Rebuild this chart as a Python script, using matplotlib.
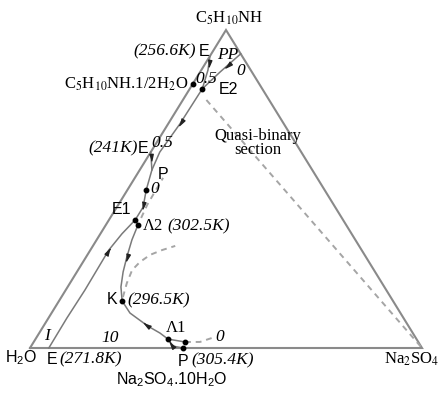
import numpy as np
import matplotlib.pyplot as plt

plt.rcParams['mathtext.fontset'] = 'custom'
plt.rcParams['mathtext.rm'] = 'Liberation Sans'
plt.rcParams['mathtext.it'] = 'Liberation Sans:italic'

SANS = 'Liberation Sans'
SERIF = 'Liberation Serif'

# height of the composition triangle relative to its base
H = 318 / 392

# compositions as (Na2SO4 fraction, C5H10NH fraction); water is the remainder
ice_salt = [0.048, 0.047, 0.049, 0.048, 0.047, 0.055, 0.067]
ice_amine = [0.000, 0.094, 0.182, 0.245, 0.308, 0.359, 0.403]

anhyd_salt = [0.075, 0.051, 0.032, 0.030, 0.023, 0.031, 0.048, 0.067, 0.067]
anhyd_amine = [0.925, 0.868, 0.815, 0.704, 0.616, 0.560, 0.497, 0.443, 0.403]

deca_salt = [0.067, 0.082, 0.090, 0.104, 0.118, 0.136, 0.161, 0.200, 0.266,
             0.308, 0.338, 0.362, 0.390]
deca_amine = [0.403, 0.387, 0.340, 0.286, 0.239, 0.192, 0.148, 0.110, 0.069,
              0.047, 0.028, 0.006, 0.000]

e256_salt = [0.000, 0.017, 0.032]
e256_amine = [0.918, 0.874, 0.815]

e241_salt = [0.000, 0.031]
e241_amine = [0.616, 0.560]

tie_salt = [0.338, 0.386]
tie_amine = [0.028, 0.019]

# liquid-liquid boundaries
bino1_salt = [0.386, 0.424, 0.455]
bino1_amine = [0.019, 0.019, 0.035]
bino2_salt = [0.157, 0.145, 0.138, 0.145, 0.160, 0.183, 0.210]
bino2_amine = [0.160, 0.204, 0.245, 0.270, 0.293, 0.308, 0.321]
bino3_salt = [0.079, 0.074, 0.073, 0.072]
bino3_amine = [0.409, 0.450, 0.487, 0.535]

# hemihydrate -> Na2SO4 section
quasi_salt = [0.06, 1.0]
quasi_amine = [0.78, 0.0]

# invariant points
pt = {
    'E256': (0.000, 0.918), 'hemi': (0.000, 0.830), 'E2': (0.032, 0.815),
    'E241': (0.000, 0.616), 'Ptop': (0.031, 0.560), 'zero': (0.048, 0.497),
    'E1': (0.067, 0.403), 'L2': (0.082, 0.387), 'K': (0.161, 0.148),
    'L1': (0.338, 0.028), 'L1b': (0.386, 0.019), 'Pbase': (0.390, 0.000),
    'E271': (0.048, 0.000), 'H2O': (0.0, 0.0), 'Na2SO4': (1.0, 0.0),
    'amine': (0.0, 1.0),
}
dots = ['hemi', 'E2', 'zero', 'E1', 'L2', 'K', 'L1', 'L1b', 'Pbase']


def tern(salt, amine):
    salt = np.asarray(salt, dtype=float)
    amine = np.asarray(amine, dtype=float)
    return salt + amine / 2, amine * H


fig = plt.figure(figsize=(4.39, 3.93), dpi=100)
ax = fig.add_axes([0, 0, 1, 1])
ax.set_xlim(-30 / 392, 409 / 392)
ax.set_ylim(-45 / 392, 348 / 392)
ax.axis('off')

# triangle
tx, ty = tern([0, 1, 0, 0], [0, 0, 1, 0])
ax.plot(tx, ty, color='#8a8a8a', lw=1.5, solid_joinstyle='miter')

line_kw = dict(color='#7a7a7a', lw=1.1)
curves = {}
for name, s, a in [('ice', ice_salt, ice_amine), ('anhyd', anhyd_salt, anhyd_amine),
                   ('deca', deca_salt, deca_amine), ('e256', e256_salt, e256_amine),
                   ('e241', e241_salt, e241_amine), ('tie', tie_salt, tie_amine)]:
    x, y = tern(s, a)
    curves[name] = (x, y)
    ax.plot(x, y, **line_kw)

dash_kw = dict(color='#a5a5a5', lw=1.4, dashes=(3, 2.5))
for s, a in [(bino1_salt, bino1_amine), (bino2_salt, bino2_amine),
             (bino3_salt, bino3_amine), (quasi_salt, quasi_amine)]:
    ax.plot(*tern(s, a), **dash_kw)

for k in dots:
    ax.plot(*tern(*pt[k]), 'o', color='black', ms=3.2)


def arrow(name, i, frac=0.5, reverse=False):
    x, y = curves[name]
    p0 = np.array([x[i], y[i]])
    p1 = np.array([x[i + 1], y[i + 1]])
    p = p0 + frac * (p1 - p0)
    d = p1 - p0
    if reverse:
        d = -d
    ang = np.arctan2(d[1], d[0])
    c, s = np.cos(ang), np.sin(ang)
    head = np.array([[1.0, 0.0], [-0.8, 0.5], [-0.8, -0.5]])
    rot = head @ np.array([[c, s], [-s, c]])
    ax.plot(p[0], p[1], marker=rot, ms=5.5, color='#222222', ls='none')


arrow('e256', 0, 0.5)
arrow('anhyd', 0, 0.6)
arrow('anhyd', 2, 0.95)
arrow('e241', 0, 0.3)
arrow('anhyd', 6, 0.9)
arrow('ice', 3, 0.9)
arrow('deca', 2, 1.0)
arrow('deca', 7, 0.95, reverse=True)
arrow('deca', 10, 0.8, reverse=True)


def label(text, key, dx, dy, family=SANS, style='normal', ha='center',
          va='center', math='custom', size=11.5, **kw):
    ax.annotate(text, xy=tern(*pt[key]), xytext=(dx, dy),
                textcoords='offset pixels', ha=ha, va=va, fontsize=size,
                family=family, style=style, math_fontfamily=math, **kw)


it = dict(family=SERIF, style='italic', math='stix', size=12.5)
rm = dict(family=SERIF, math='stix', size=12)

label(r'C$_5$H$_{10}$NH', 'amine', 3, 12, **rm)
label('E', 'E256', -1, 5, ha='right')
label('(256.6K)', 'E256', -14, 5, ha='right', **it)
label('PP', 'E256', 18, 1, **it)
label('0', 'E256', 31, -15, **it)
label(r'C$_5$H$_{10}$NH.1/2H$_2$O', 'hemi', -4, 0, ha='right', **rm)
label('0.5', 'hemi', 14, 5, **it)
label('E2', 'E2', 16, -1, ha='left')
label('Quasi-binary\nsection', 'E2', 56, -54, linespacing=0.85, **rm)
label('E', 'E241', -2, 4, ha='right')
label('(241K)', 'E241', -13, 4, ha='right', **it)
label('0.5', 'E241', 12, 9, **it)
label('P', 'Ptop', 11, -5)
label('0', 'zero', 8, 1, **it)
label('E1', 'E1', -4, 10, ha='right')
label('Λ2', 'L2', 5, -1, ha='left', **rm)
label('(302.5K)', 'L2', 29, -1, ha='left', **it)
label('K', 'K', -5, 1, ha='right')
label('(296.5K)', 'K', 5, 1, ha='left', **it)
label('Λ1', 'L1', 8, 11, **rm)
label('0', 'L1b', 35, 5, **it)
label('P', 'Pbase', 0, -13)
label('(305.4K)', 'Pbase', 9, -12, ha='left', **it)
label(r'Na$_2$SO$_4$.10H$_2$O', 'Pbase', -11, -32)
label(r'H$_2$O', 'H2O', 7, -10, ha='right')
label('E', 'E271', 3, -11)
label('(271.8K)', 'E271', 11, -11, ha='left', **it)
label('I', 'H2O', 17, 12, **it)
label('10', 'E271', 61, 10, **it)
label(r'Na$_2$SO$_4$', 'Na2SO4', -10, -11, **rm)

fig.savefig('out.png', dpi=100)
